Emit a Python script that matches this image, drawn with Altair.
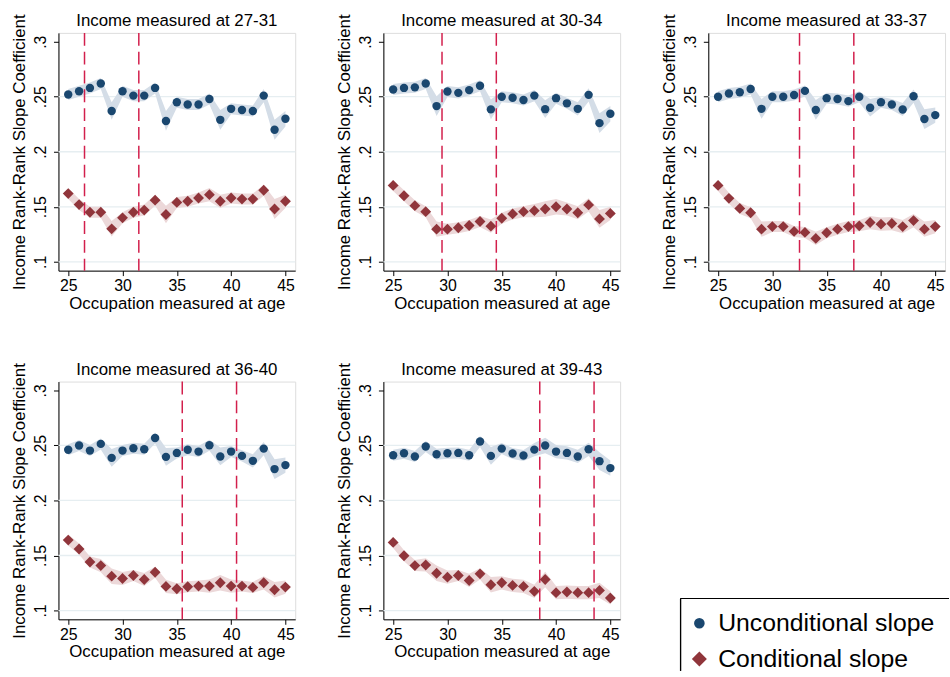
import altair as alt
import pandas as pd

ages = list(range(25, 46))

titles = [
    "Income measured at 27-31",
    "Income measured at 30-34",
    "Income measured at 33-37",
    "Income measured at 36-40",
    "Income measured at 39-43",
]

vline_pairs = [[26.5, 31.5], [29.5, 34.5], [32.5, 37.5], [35.5, 40.5], [38.5, 43.5]]

uncond = [
    [.252, .255, .258, .262, .237, .255, .251, .251, .258, .228, .245, .243, .243, .248, .229, .239, .238, .237, .251, .220, .230],
    [.2565, .258, .2585, .262, .2415, .2547, .2535, .256, .260, .2385, .250, .249, .247, .251, .2387, .2487, .244, .239, .2517, .226, .2345],
    [.250, .253, .254, .257, .239, .250, .250, .2515, .2553, .238, .2487, .248, .246, .250, .240, .245, .243, .2384, .2505, .2297, .2333],
    [.246, .250, .2453, .2514, .2387, .2453, .2474, .2465, .2568, .2396, .2432, .246, .2444, .2502, .240, .2444, .2405, .236, .2471, .2285, .2321],
    [.2411, .2429, .240, .249, .242, .2429, .2432, .2411, .2535, .2405, .2471, .2426, .2408, .2462, .250, .2444, .2432, .240, .2465, .2357, .2294],
]

uncond_hw = [
    [.005, .005, .005, .005, .008, .005, .005, .005, .005, .009, .005, .005, .005, .005, .009, .005, .005, .005, .006, .009, .007],
    [.005, .005, .005, .005, .009, .005, .005, .005, .005, .009, .005, .005, .005, .005, .008, .005, .005, .006, .006, .009, .007],
    [.005, .005, .005, .005, .009, .005, .005, .005, .005, .009, .005, .005, .005, .005, .008, .005, .005, .006, .006, .009, .007],
    [.005, .005, .005, .005, .008, .005, .005, .005, .005, .008, .005, .005, .005, .005, .008, .005, .005, .006, .006, .009, .007],
    [.005, .005, .005, .005, .005, .005, .005, .005, .005, .008, .005, .005, .005, .006, .007, .006, .006, .006, .006, .008, .007],
]

cond = [
    [.162, .152, .145, .145, .130, .140, .145, .147, .156, .143, .154, .155, .158, .161, .155, .158, .157, .157, .165, .148, .155],
    [.1694, .160, .151, .1456, .1297, .1297, .131, .133, .1366, .1324, .1396, .1435, .1456, .1465, .148, .150, .148, .1446, .1517, .139, .144],
    [.1694, .1577, .1485, .1446, .1297, .132, .132, .1276, .1267, .1213, .1264, .1297, .132, .1327, .1357, .1342, .1348, .132, .1375, .1297, .132],
    [.164, .1559, .1441, .1408, .1312, .1291, .1318, .1282, .1348, .1219, .1198, .1216, .1222, .1222, .1252, .1222, .1222, .121, .1252, .1189, .1213],
    [.1619, .1498, .1408, .1414, .1339, .1303, .1318, .1273, .1333, .1234, .1252, .1228, .1219, .1174, .1282, .1162, .1168, .1162, .1162, .1183, .1114],
]

cond_hw = [
    [.005, .005, .005, .005, .007, .005, .005, .005, .005, .008, .005, .005, .005, .006, .006, .005, .005, .005, .005, .009, .006],
    [.005, .005, .005, .005, .007, .005, .005, .005, .005, .006, .005, .005, .005, .006, .007, .007, .006, .006, .006, .008, .006],
    [.005, .005, .005, .005, .007, .005, .005, .005, .005, .006, .005, .005, .005, .005, .006, .006, .006, .006, .006, .007, .006],
    [.005, .005, .005, .006, .007, .006, .005, .006, .005, .006, .005, .005, .005, .006, .007, .006, .005, .005, .006, .007, .006],
    [.005, .005, .005, .006, .007, .006, .005, .006, .005, .007, .006, .006, .006, .006, .007, .006, .006, .006, .006, .007, .006],
]

grid_values = [0.1, 0.15, 0.2, 0.25]
y_ticks = [0.1, 0.15, 0.2, 0.25, 0.3]
x_ticks = [25, 30, 35, 40, 45]
legend_labels = ["Unconditional slope", "Conditional slope"]

NAVY = "#1a476f"
MAROON = "#90353b"
U_BAND = "#d4dde7"
C_BAND = "#ecd8d9"
GRID = "#e6eef1"
RED = "#d21f4c"
FONT = "Liberation Sans"
PW, PH = 239, 240

xscale = alt.Scale(domain=[24.1, 45.9], nice=False, zero=False)
yscale = alt.Scale(domain=[0.092, 0.308], nice=False, zero=False)

xaxis = alt.Axis(values=x_ticks, title="Occupation measured at age", format="d",
                 grid=False, labelFlush=False, labelPadding=2, titlePadding=2)
yaxis = alt.Axis(values=y_ticks, title="Income Rank-Rank Slope Coefficient",
                 labelExpr="substring(toString(datum.value), 1)",
                 labelAngle=270, labelAlign="center", labelBaseline="bottom",
                 grid=False, labelFlush=False, labelPadding=5, titlePadding=4)


def X(field):
    return alt.X(field, type="quantitative", scale=xscale, axis=xaxis)


def Y(field):
    return alt.Y(field, type="quantitative", scale=yscale, axis=yaxis)


def make_panel(i):
    d = pd.DataFrame({
        "age": ages,
        "u": uncond[i],
        "u_lo": [v - h for v, h in zip(uncond[i], uncond_hw[i])],
        "u_hi": [v + h for v, h in zip(uncond[i], uncond_hw[i])],
        "c": cond[i],
        "c_lo": [v - h for v, h in zip(cond[i], cond_hw[i])],
        "c_hi": [v + h for v, h in zip(cond[i], cond_hw[i])],
    })
    base = alt.Chart(d)
    grid = alt.Chart(pd.DataFrame({"g": grid_values})).mark_rule(
        color=GRID, strokeWidth=1.3
    ).encode(y=Y("g"))
    vl = alt.Chart(pd.DataFrame({"v": vline_pairs[i]})).mark_rule(
        color=RED, strokeDash=[13, 6], strokeWidth=1.5
    ).encode(x=X("v"))
    ub = base.mark_area(color=U_BAND, opacity=1).encode(x=X("age"), y=Y("u_lo"), y2="u_hi")
    cb = base.mark_area(color=C_BAND, opacity=1).encode(x=X("age"), y=Y("c_lo"), y2="c_hi")
    up = base.mark_point(filled=True, shape="circle", size=72, color=NAVY, opacity=1).encode(
        x=X("age"), y=Y("u"))
    cp = base.mark_point(filled=True, shape="diamond", size=120, color=MAROON, opacity=1).encode(
        x=X("age"), y=Y("c"))
    ttl = alt.Chart(pd.DataFrame({"t": [titles[i]]})).mark_text(
        fontSize=17, font=FONT, color="black", align="center", baseline="alphabetic"
    ).encode(x=alt.value(PW / 2), y=alt.value(-7), text="t:N")
    return alt.layer(grid, ub, cb, vl, up, cp, ttl).properties(width=PW, height=PH)


legend_df = pd.DataFrame({"label": legend_labels, "series": legend_labels})
ly = alt.Y("label:N", sort=legend_labels, scale=alt.Scale(range=[244, 280], padding=0), axis=None)
box_top = alt.Chart(legend_df).mark_rule(color="black", strokeWidth=1.2).encode(
    x=alt.value(21), x2=alt.value(292), y=alt.value(219))
box_left = alt.Chart(legend_df).mark_rule(color="black", strokeWidth=1.2).encode(
    x=alt.value(21), y=alt.value(219), y2=alt.value(292))
leg_pts = alt.Chart(legend_df).mark_point(filled=True, opacity=1).encode(
    x=alt.value(40), y=ly,
    shape=alt.Shape("series:N", scale=alt.Scale(domain=legend_labels, range=["circle", "diamond"]), legend=None),
    color=alt.Color("series:N", scale=alt.Scale(domain=legend_labels, range=[NAVY, MAROON]), legend=None),
    size=alt.Size("series:N", scale=alt.Scale(domain=legend_labels, range=[115, 230]), legend=None))
leg_txt = alt.Chart(legend_df).mark_text(align="left", baseline="middle", fontSize=25, font=FONT, color="black").encode(
    x=alt.value(59), y=ly, text="label:N")
legend_panel = alt.layer(box_top, box_left, leg_pts, leg_txt).properties(
    width=280, height=285, view=alt.ViewBackground(stroke="transparent", strokeWidth=0))

panels = [make_panel(i) for i in range(5)]

chart = alt.vconcat(
    alt.hconcat(panels[0], panels[1], panels[2], spacing=38),
    alt.hconcat(panels[3], panels[4], legend_panel, spacing=38),
    spacing=48,
).properties(
    padding={"left": 10, "top": 8, "right": 0, "bottom": 0},
    background="white",
).configure_view(stroke="transparent", strokeWidth=0).configure(font=FONT).configure_axis(
    domainColor="black", tickColor="black", labelColor="black", titleColor="black",
    labelFontSize=16, titleFontSize=17, titleFontWeight="normal", tickSize=5,
    labelFont=FONT, titleFont=FONT, domainWidth=1, tickWidth=1,
)

chart.save("out.html", embed_options={"renderer": "svg", "actions": False})
